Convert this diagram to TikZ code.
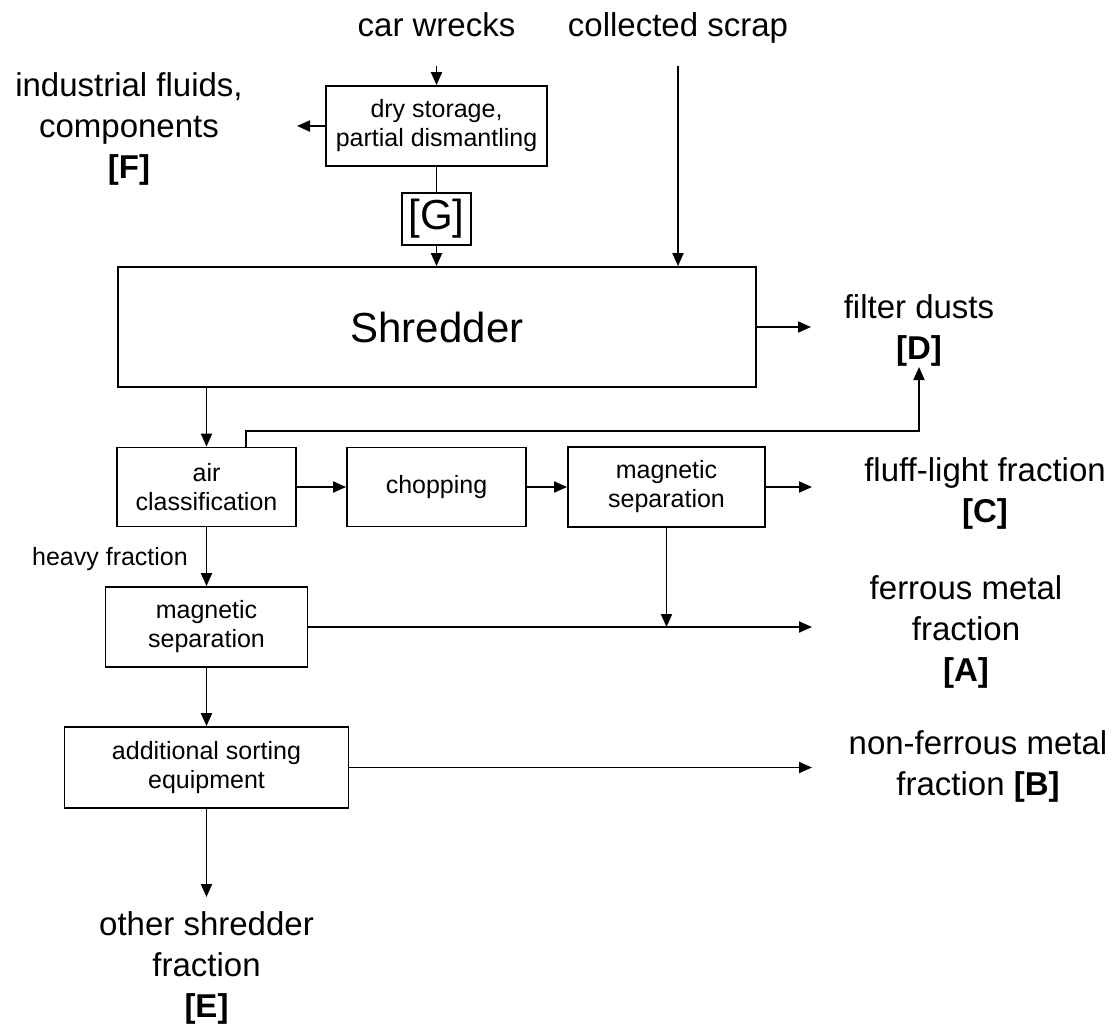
\documentclass[tikz,border=0pt]{standalone}
\usepackage{fontspec}
\setmainfont{Liberation Sans}
\usetikzlibrary{arrows.meta}
\begin{document}
\begin{tikzpicture}[x=1pt,y=-1pt,
  box/.style={draw, line width=1.8pt, inner sep=0pt, align=center, font=\fontsize{25}{29}\selectfont},
  bigbox/.style={box, font=\fontsize{42}{48}\selectfont},
  lbl/.style={inner sep=0pt, align=center, font=\fontsize{33}{41}\selectfont},
  small/.style={inner sep=0pt, font=\fontsize{25}{29}\selectfont},
  ln/.style={line width=1.9pt},
  arr/.style={line width=1.9pt, -{Triangle[length=13pt,width=11pt]}}]
\useasboundingbox (0,0) rectangle (1115,1023);

% boxes
\node[box, minimum width=221pt, minimum height=80pt] (dry) at (436.5,126) {dry storage,\\partial dismantling};
\node[bigbox, minimum width=69pt, minimum height=52pt] (G) at (436.5,219) {[G]};
\node[bigbox, minimum width=638pt, minimum height=120pt] (shr) at (437,327) {Shredder};
\node[box, minimum width=179pt, minimum height=79pt] (air) at (206.5,487) {air\\classification};
\node[box, minimum width=179pt, minimum height=79pt] (chop) at (436.5,487) {chopping};
\node[box, minimum width=197pt, minimum height=80pt] (mag1) at (666.5,487) {magnetic\\separation};
\node[box, minimum width=202pt, minimum height=80pt] (mag2) at (206.5,627) {magnetic\\separation};
\node[box, minimum width=284pt, minimum height=81pt] (sort) at (206.5,767.5) {additional sorting\\equipment};

% labels
\node[lbl, anchor=base] (car) at (436.5,36) {car wrecks};
\node[lbl, anchor=base] (scrap) at (678,36) {collected scrap};
\node[lbl] (F) at (129,129) {industrial fluids,\\components\\\textbf{[F]}};
\node[lbl] (D) at (919,330) {filter dusts\\\textbf{[D]}};
\node[lbl] (C) at (985,493) {fluff-light fraction\\\textbf{[C]}};
\node[lbl] (A) at (966,632) {ferrous metal\\fraction\\\textbf{[A]}};
\node[lbl] (B) at (978,766) {non-ferrous metal\\fraction \textbf{[B]}};
\node[lbl] (E) at (206.5,968) {other shredder\\fraction\\\textbf{[E]}};
\node[small, anchor=base] (heavy) at (110,565) {heavy fraction};

% free ends
\coordinate (carout) at (436.5,66);
\coordinate (scrapout) at (678,66);
\coordinate (Fin) at (297,126);
\coordinate (Din) at (811,327);
\coordinate (Dbot) at (919,367);
\coordinate (Cin) at (812,487);
\coordinate (Ain) at (812,627);
\coordinate (Bin) at (812,767.5);
\coordinate (Ein) at (206.5,897);

% connectors
\draw[arr] (carout) -- (dry.north);
\draw[arr] (dry.west) -- (Fin);
\draw[ln] (dry.south) -- (G.north);
\draw[arr] (G.south) -- (G.south |- shr.north);
\draw[arr] (scrapout) -- (scrapout |- shr.north);
\draw[arr] (shr.east) -- (Din);
\draw[arr] (air.north |- shr.south) -- (air.north);
\draw[arr] ([xshift=39.5pt]air.north) -- ++(0,-16) -| (Dbot);
\draw[arr] (air.east) -- (chop.west);
\draw[arr] (chop.east) -- (mag1.west);
\draw[arr] (mag1.east) -- (Cin);
\draw[arr] (air.south) -- (mag2.north);
\draw[arr] (mag2.east) -- (Ain);
\draw[arr] (mag1.south) -- (mag1.south |- mag2.east);
\draw[arr] (mag2.south) -- (sort.north);
\draw[arr] (sort.east) -- (Bin);
\draw[arr] (sort.south) -- (Ein);
\end{tikzpicture}
\end{document}
